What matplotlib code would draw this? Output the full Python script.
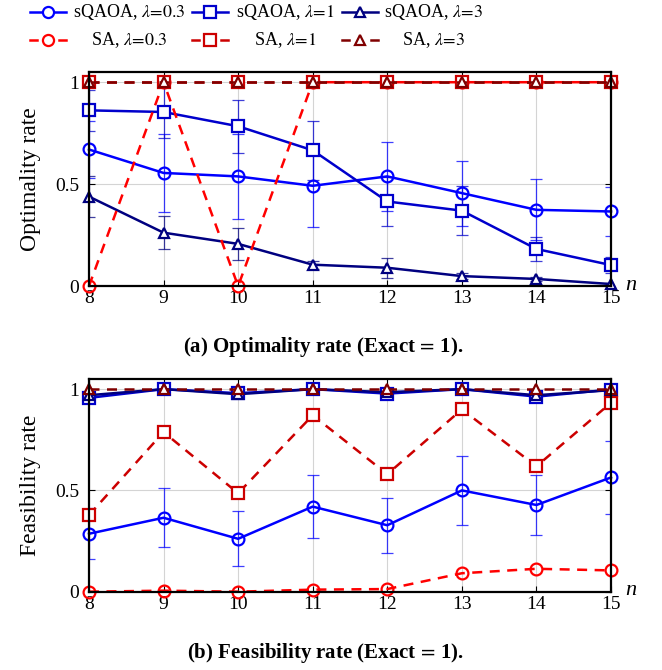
import numpy as np
import matplotlib
matplotlib.use("Agg")
import matplotlib.pyplot as plt
from matplotlib.lines import Line2D

plt.rcParams['font.family'] = ['Liberation Serif', 'DejaVu Serif']
plt.rcParams['mathtext.fontset'] = 'stix'

n = [8, 9, 10, 11, 12, 13, 14, 15]

# (a) optimality rate
opt_q03 = [0.67, 0.555, 0.538, 0.492, 0.538, 0.456, 0.374, 0.366]
opt_q03_err = [0.14, 0.19, 0.21, 0.20, 0.17, 0.16, 0.15, 0.12]
opt_q1 = [0.862, 0.854, 0.784, 0.666, 0.415, 0.37, 0.182, 0.103]
opt_q1_err = [0.10, 0.13, 0.13, 0.145, 0.12, 0.12, 0.06, 0.04]
opt_q3 = [0.439, 0.262, 0.207, 0.105, 0.09, 0.049, 0.035, 0.01]
opt_q3_err = [0.10, 0.08, 0.08, 0.02, 0.05, 0.015, 0.01, 0.005]
opt_sa03 = [0, 1, 0, 1, 1, 1, 1, 1]
opt_sa1 = [1, 1, 1, 1, 1, 1, 1, 1]
opt_sa3 = [1, 1, 1, 1, 1, 1, 1, 1]

# (b) feasibility rate
fea_q03 = [0.286, 0.365, 0.261, 0.42, 0.328, 0.5, 0.428, 0.564]
fea_q03_err = [0.125, 0.145, 0.135, 0.155, 0.135, 0.17, 0.15, 0.18]
fea_q1 = [0.957, 1.0, 0.98, 1.0, 0.978, 1.0, 0.963, 0.998]
fea_q1_err = [0.01, 0.0, 0.01, 0.0, 0.01, 0.0, 0.01, 0.0]
fea_q3 = [0.97, 1.0, 0.975, 1.0, 0.985, 1.0, 0.97, 0.995]
fea_q3_err = [0.01, 0.0, 0.01, 0.0, 0.01, 0.0, 0.01, 0.0]
fea_sa03 = [0.0, 0.005, 0.0, 0.01, 0.013, 0.091, 0.113, 0.105]
fea_sa1 = [0.378, 0.788, 0.486, 0.871, 0.58, 0.9, 0.619, 0.933]
fea_sa3 = [1, 1, 1, 1, 1, 1, 1, 1]

labels = [r'sQAOA, $\lambda\!=\!0.3$', r'sQAOA, $\lambda\!=\!1$', r'sQAOA, $\lambda\!=\!3$',
          r'SA, $\lambda\!=\!0.3$', r'SA, $\lambda\!=\!1$', r'SA, $\lambda\!=\!3$']
colors = ['#0000ff', '#0000cc', '#000080', '#ff0000', '#cc0000', '#800000']
markers = ['o', 's', '^', 'o', 's', '^']
faces = ['none', 'white', 'white', 'none', 'white', 'white']
msizes = [8.5, 8.5, 7.5, 8.5, 8.5, 7.5]

fig = plt.figure(figsize=(6.62, 6.70), dpi=100)
ax1 = fig.add_axes([0.1344, 0.573, 0.7886, 0.3195])
ax2 = fig.add_axes([0.1344, 0.1169, 0.7886, 0.3174])


def draw(ax, series, errs, ylabel):
    for i, y in enumerate(series):
        if i < 3:
            ax.errorbar(n, y, yerr=errs[i], fmt='none', ecolor=colors[i],
                        elinewidth=0.9, capsize=4, capthick=0.9, alpha=0.75,
                        zorder=2 + i)
        ax.plot(n, y, linestyle='--' if i >= 3 else '-', color=colors[i], lw=1.8,
                marker=markers[i], markersize=msizes[i], markerfacecolor=faces[i],
                markeredgecolor=colors[i], markeredgewidth=1.6,
                dashes=(4, 3) if i >= 3 else (),
                clip_on=False, zorder=5 + i)
    ax.set_xlim(8, 15)
    ax.set_ylim(0, 1.05)
    ax.set_xticks(n)
    ax.set_yticks([0, 0.5, 1])
    ax.set_yticklabels(['0', '0.5', '1'])
    ax.grid(True, color='#d4d4d4', lw=0.8, zorder=0)
    ax.set_axisbelow(True)
    ax.tick_params(direction='in', length=4, width=0.8, labelsize=14,
                   top=True, right=True)
    ax.tick_params(axis='y', pad=7)
    ax.tick_params(axis='x', pad=3)
    for s in ax.spines.values():
        s.set_linewidth(1.6)
        s.set_zorder(20)
    ax.set_ylabel(ylabel, fontsize=17, labelpad=10)
    ax.text(1.038, 0.005, 'n', transform=ax.transAxes, fontsize=16,
            fontstyle='italic', ha='center', va='center')


draw(ax1, [opt_q03, opt_q1, opt_q3, opt_sa03, opt_sa1, opt_sa3],
     [opt_q03_err, opt_q1_err, opt_q3_err], 'Optimality rate')
draw(ax2, [fea_q03, fea_q1, fea_q3, fea_sa03, fea_sa1, fea_sa3],
     [fea_q03_err, fea_q1_err, fea_q3_err], 'Feasibility rate')

fig.text(0.488, 1 - 347 / 670, r'(a) Optimality rate (Exact$\,=\,$1).',
         ha='center', va='center', fontsize=15, fontweight='bold')
fig.text(0.491, 1 - 653 / 670, r'(b) Feasibility rate (Exact$\,=\,$1).',
         ha='center', va='center', fontsize=15, fontweight='bold')

# legend, drawn by hand so the texts are centred like the original
hx = [48, 210, 360]
tx = [129, 285, 434]
rows = [12, 40]
for i in range(6):
    r, c = divmod(i, 3)
    y = 1 - rows[r] / 670
    if i < 3:
        segs = [(hx[c] - 18, hx[c] + 18)]
    else:
        segs = [(hx[c] - 18, hx[c] - 11), (hx[c] + 11, hx[c] + 18)]
    for a, b in segs:
        fig.add_artist(Line2D([a / 662, b / 662], [y, y], transform=fig.transFigure,
                              color=colors[i], lw=1.8))
    fig.add_artist(Line2D([hx[c] / 662], [y], transform=fig.transFigure,
                          marker=markers[i], markersize=msizes[i] - 0.5,
                          markerfacecolor='white', markeredgecolor=colors[i],
                          markeredgewidth=1.6, linestyle='none'))
    fig.text(tx[c] / 662, y, labels[i], ha='center', va='center', fontsize=13)

fig.savefig('out.png', dpi=100)
